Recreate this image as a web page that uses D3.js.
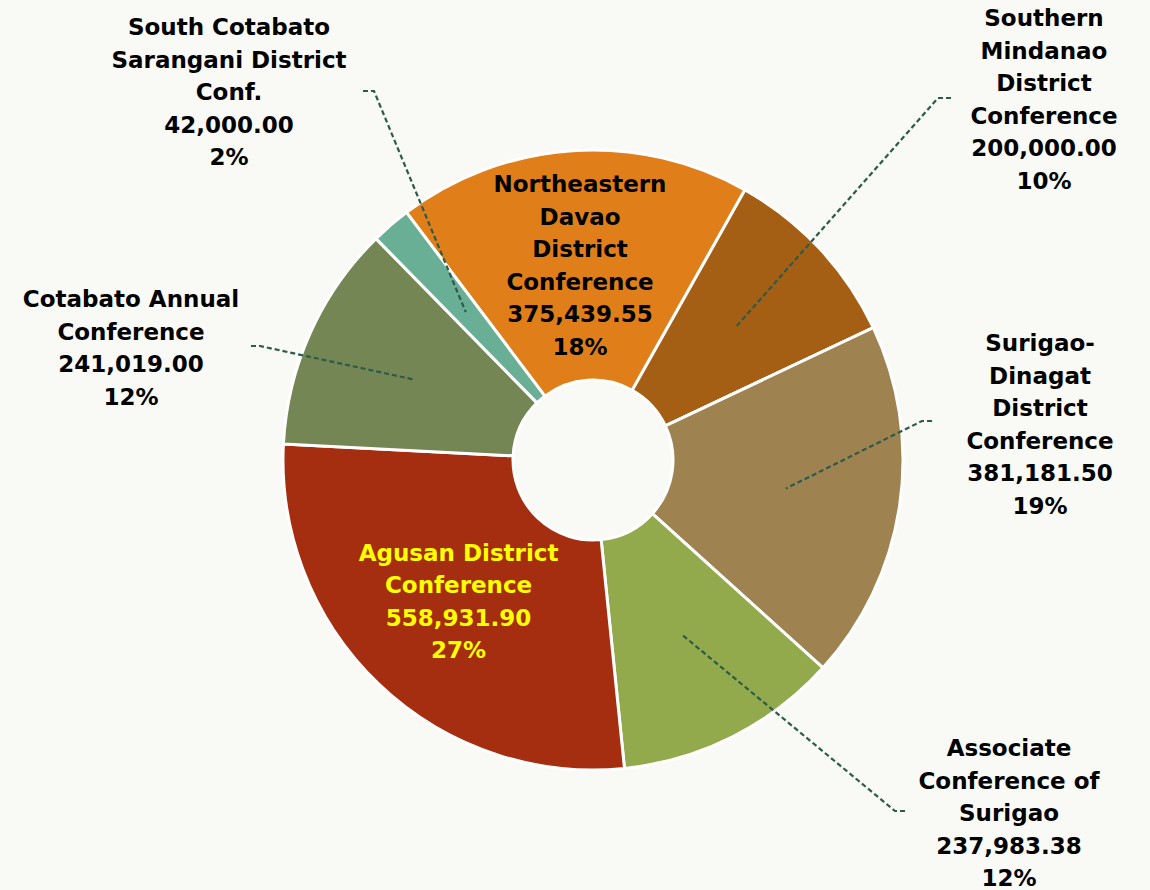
<!DOCTYPE html>
<html>
<head>
<meta charset="utf-8">
<script src="https://cdn.jsdelivr.net/npm/d3@7"></script>
<style>
  body { margin: 0; background: #f9f9f5; }
  svg { display: block; }
  .lbl { font-family: "DejaVu Sans", sans-serif; font-weight: bold; font-size: 23px; }
</style>
</head>
<body>
<script>
// data
var categories = ["Northeastern Davao District Conference", "Southern Mindanao District Conference",
    "Surigao-Dinagat District Conference", "Associate Conference of Surigao",
    "Agusan District Conference", "Cotabato Annual Conference", "South Cotabato Sarangani District Conf."];
var amounts = [375439.55, 200000.00, 381181.50, 237983.38, 558931.90, 241019.00, 42000.00];
var colors = ["#e07f1a", "#a55f14", "#9e8250", "#93aa4c", "#a52e10", "#738654", "#69af95"];

// how each name is broken into lines
var nameLines = [
    ["Northeastern", "Davao", "District", "Conference"],
    ["Southern", "Mindanao", "District", "Conference"],
    ["Surigao-", "Dinagat", "District", "Conference"],
    ["Associate", "Conference of", "Surigao"],
    ["Agusan District", "Conference"],
    ["Cotabato Annual", "Conference"],
    ["South Cotabato", "Sarangani District", "Conf."]
];

var width = 1150, height = 890;
var cx = 593, cy = 460;
var outerR = 310, innerR = 80;
var lineH = 32.5;

// label layout: inside labels sit on the centroid, outside ones were dragged by hand
var labelPos = [
    {inside: true, color: "#000"},
    {x: 1044, y: 18, start: [951, 98], bend: [938, 98]},
    {x: 1040, y: 343, start: [932, 421], bend: [922, 421]},
    {x: 1009, y: 748, start: [905, 811], bend: [895, 811]},
    {inside: true, color: "#ffff00"},
    {x: 131, y: 299, start: [251, 346], bend: [260, 346]},
    {x: 229, y: 27, start: [363, 91], bend: [374, 91]}
];

var svg = d3.select("body").append("svg").attr("width", width).attr("height", height);
svg.append("rect").attr("width", width).attr("height", height).attr("fill", "#f9f9f5");

var total = d3.sum(amounts);
var fmt = d3.format(",.2f");

var startA = -37 * Math.PI / 180;
var pie = d3.pie().sort(null).value(d => d).startAngle(startA).endAngle(startA + 2 * Math.PI);
var arc = d3.arc().innerRadius(innerR).outerRadius(outerR);

var arcs = pie(amounts);
var g = svg.append("g").attr("transform", "translate(" + cx + "," + cy + ")");

g.selectAll("path.slice")
    .data(arcs).enter()
    .append("path")
    .attr("class", "slice")
    .attr("d", arc)
    .attr("fill", (d, i) => colors[i])
    .attr("stroke", "#ffffff")
    .attr("stroke-width", 3)
    .attr("stroke-linejoin", "round");

// leader lines to centroid
arcs.forEach(function (d, i) {
    var p = labelPos[i];
    if (p.inside) return;
    var c = arc.centroid(d);
    var pts = [p.start, p.bend, [c[0] + cx, c[1] + cy]];
    svg.append("path")
        .attr("d", d3.line()(pts))
        .attr("fill", "none")
        .attr("stroke", "#2b5b4b")
        .attr("stroke-width", 2.2)
        .attr("stroke-dasharray", "5,3");
});

// labels
arcs.forEach(function (d, i) {
    var p = labelPos[i];
    var lines = nameLines[i].concat([fmt(amounts[i]), Math.round(amounts[i] / total * 100) + "%"]);
    var x, y0;
    if (p.inside) {
        var c = arc.centroid(d);
        x = c[0] + cx;
        y0 = c[1] + cy - (lines.length - 1) * lineH / 2;
    } else {
        x = p.x;
        y0 = p.y;
    }
    var t = svg.append("text")
        .attr("class", "lbl")
        .attr("text-anchor", "middle")
        .attr("fill", p.color || "#000");
    lines.forEach(function (s, k) {
        t.append("tspan")
            .attr("x", x)
            .attr("y", y0 + k * lineH)
            .attr("dominant-baseline", "central")
            .text(s);
    });
});
</script>
</body>
</html>
